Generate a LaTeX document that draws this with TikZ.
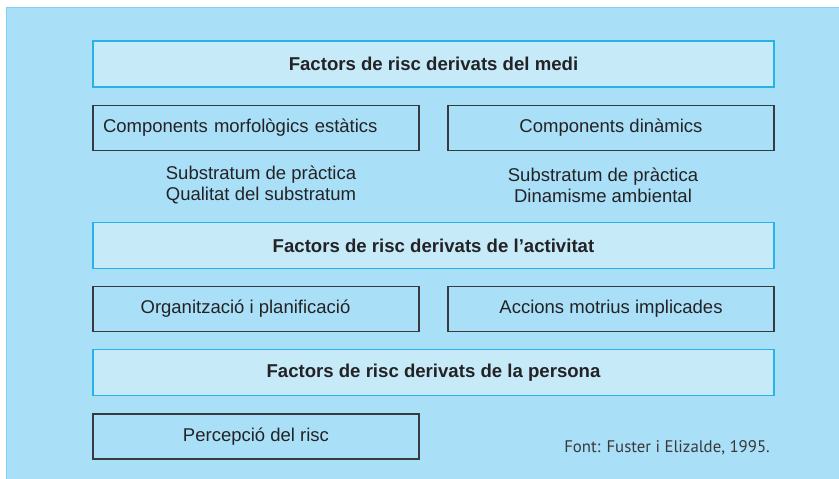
\documentclass[tikz,border=0pt]{standalone}
\usepackage{fontspec}
\setmainfont{Liberation Sans}
\newfontfamily\srcfont{PT Sans}
\usetikzlibrary{positioning}

\definecolor{panelblue}{RGB}{170,223,248}
\definecolor{hdrfill}{RGB}{199,234,249}
\definecolor{hdrline}{RGB}{38,178,234}
\definecolor{boxline}{RGB}{55,58,62}
\definecolor{txtgray}{RGB}{35,35,38}

\tikzset{
    hdrbox/.style={rectangle, draw=hdrline, fill=hdrfill, line width=1.2pt, minimum width=681pt, minimum height=46pt, font=\fontsize{18.6}{21}\selectfont\bfseries, text=txtgray},
    compbox/.style={rectangle, draw=boxline, line width=1.2pt, minimum width=326pt, minimum height=45pt, font=\fontsize{18.5}{21}\selectfont, text=txtgray},
    desc/.style={align=center, font=\fontsize{18.5}{21}\selectfont, text=txtgray, inner sep=0pt}
}

\begin{document}
\begin{tikzpicture}[x=1pt, y=-1pt]
    \useasboundingbox (0,0) rectangle (839,479);
    %% Panel
    \fill[white] (0,0) rectangle (839,479);
    \fill[panelblue] (6,7) rectangle (839,479);
    \draw[hdrline!60, line width=0.8pt] (6,479) -- (6,7) -- (839,7);

    %% Medi
    \node[hdrbox] (medi) at (433.5,64) {Factors de risc derivats del medi};
    \node[compbox, below=17pt of medi.south west, anchor=north west, text width=306pt, inner xsep=10pt, align=left] (morf) {Components morfològics estàtics};
    \node[compbox, below=17pt of medi.south east, anchor=north east] (dina) {Components dinàmics};
    \node[desc] (morfd) at (261,185) {Substratum de pràctica\\Qualitat del substratum};
    \node[desc] (dinad) at (603,185) {Substratum de pràctica\\Dinamisme ambiental};

    %% Activitat
    \node[hdrbox, below=71pt of morf.south west, anchor=north west] (activ) {Factors de risc derivats de l’activitat};
    \node[compbox, below=17pt of activ.south west, anchor=north west] (organ) {\hspace*{-21pt}Organització i planificació};
    \node[compbox, below=17pt of activ.south east, anchor=north east] (accio) {Accions motrius implicades};

    %% Persona
    \node[hdrbox, below=17pt of organ.south west, anchor=north west] (perso) {Factors de risc derivats de la persona};
    \node[compbox, below=17pt of perso.south west, anchor=north west] (perce) {Percepció del risc};

    \node[anchor=base east, inner sep=0pt, font=\srcfont\fontsize{16.8}{19}\selectfont, text=txtgray!90] (font) at (770,452) {Font: Fuster i Elizalde, 1995.};
\end{tikzpicture}
\end{document}
